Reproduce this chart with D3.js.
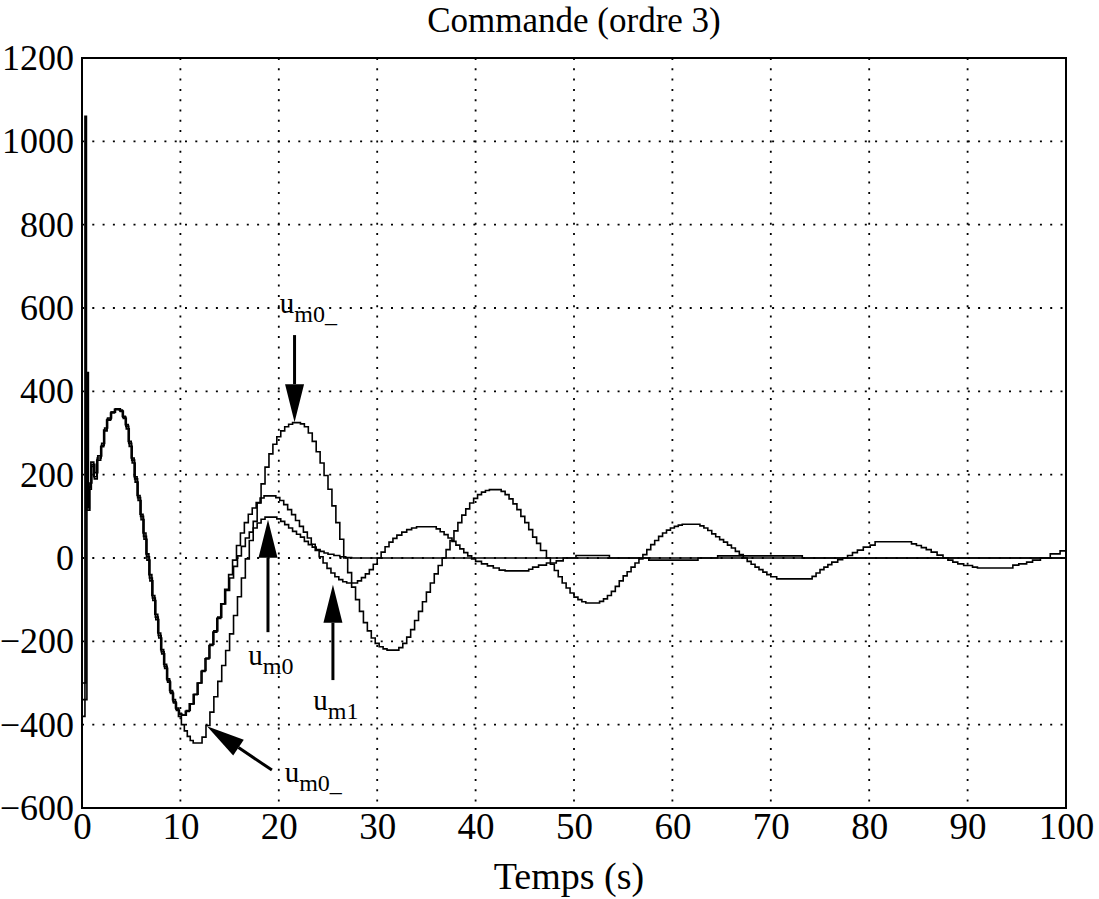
<!DOCTYPE html>
<html>
<head>
<meta charset="utf-8">
<script src="https://cdn.jsdelivr.net/npm/d3@7/dist/d3.min.js"></script>
<style>
  html, body { margin: 0; padding: 0; background: #fff; }
  svg { display: block; }
  text { font-family: "Liberation Serif", "DejaVu Serif", serif; fill: #000; }
</style>
</head>
<body>
<svg id="chart" width="1099" height="899"></svg>
<script>
// ---------------- DATA ----------------
const title = "Commande (ordre 3)";
const xLabel = "Temps (s)";
const xTicks = [0, 10, 20, 30, 40, 50, 60, 70, 80, 90, 100];
const yTicks = [-600, -400, -200, 0, 200, 400, 600, 800, 1000, 1200];

// u_m0 : [time (s), value]
const um0 = [
  [0,-380],[0.3,1060],[0.45,115],[0.8,180],[1.0,225],[1.3,205],[1.6,245],[2.0,275],[2.3,312],[2.6,336],
  [3.0,350],[3.4,358],[3.9,352],[4.2,335],[4.5,310],[4.8,268],[5.1,228],[5.4,182],[5.7,138],[6.0,92],
  [6.3,45],[6.6,-5],[6.9,-55],[7.2,-102],[7.5,-148],[7.8,-192],[8.1,-230],[8.4,-265],[8.7,-298],[9.0,-325],
  [9.3,-348],[9.6,-366],[9.9,-375],[10.2,-377],[10.6,-366],[11.0,-350],[11.4,-327],[11.8,-300],[12.2,-270],
  [12.6,-240],[13.0,-207],[13.4,-175],[13.8,-142],[14.2,-110],[14.6,-78],[15.0,-48],[15.4,-20],[15.8,5],
  [16.2,28],[16.6,48],[17.0,62],[17.4,72],[17.8,84],[18.2,93],[18.6,98],[19.4,98],[19.8,94],[20.2,88],
  [20.6,80],[21.0,72],[21.4,64],[21.8,57],[22.2,50],[22.6,40],[23.0,32],[23.4,26],[23.8,20],[24.2,16],
  [24.6,12],[25.0,9],[25.6,6],[26.2,3],[26.8,1],[27.4,0],[100,0]
];

// u_m1
const um1 = [
  [0,-340],[0.5,445],[0.65,120],[0.75,165],[0.95,220],[1.25,190],[1.55,240],[1.95,270],[2.25,305],[2.55,333],
  [2.95,350],[3.35,356],[3.85,353],[4.15,338],[4.45,316],[4.75,275],[5.05,235],[5.35,190],[5.65,145],[5.95,100],
  [6.25,52],[6.55,3],[6.85,-48],[7.15,-96],[7.45,-142],[7.75,-186],[8.05,-225],[8.35,-260],[8.65,-294],[8.95,-322],
  [9.25,-345],[9.55,-363],[9.85,-373],[10.1,-377],[10.5,-368],[10.9,-350],[11.3,-328],[11.7,-300],[12.1,-272],
  [12.5,-242],[12.9,-210],[13.3,-178],[13.7,-145],[14.1,-110],[14.5,-75],[14.9,-40],[15.3,-5],[15.7,30],
  [16.1,60],[16.5,85],[16.9,105],[17.3,120],[17.7,133],[18.1,144],[18.5,149],[19.3,149],[19.7,145],[20.1,138],
  [20.5,128],[20.9,116],[21.3,104],[21.7,90],[22.1,76],[22.5,62],[22.9,48],[23.3,33],[23.7,18],[24.1,3],
  [24.5,-12],[24.9,-25],[25.3,-36],[25.7,-45],[26.1,-52],[26.5,-57],[26.9,-60],[27.6,-60],[28.0,-55],
  [28.4,-47],[28.8,-38],[29.2,-28],[29.6,-15],[30.0,0],[30.4,14],[30.8,27],[31.2,38],[31.6,47],[32.0,55],
  [32.5,62],[33.0,68],[33.5,72],[34.0,75],[35.6,75],[36.0,70],[36.4,63],[36.8,56],[37.2,48],[37.6,40],
  [38.0,31],[38.4,22],[38.8,13],[39.2,5],[39.6,-2],[40.0,-8],[40.6,-14],[41.2,-19],[41.8,-24],[42.4,-29],
  [43.0,-31],[45.0,-31],[45.4,-27],[45.8,-22],[46.4,-17],[47.2,-12],[48.2,-7],[48.9,0],[50.2,6],[53.6,0],
  [57.6,-5],[62.6,0],[64.6,5],[73.2,0],[100,0]
];

// u_m0_
const um0b = [
  [0,-300],[0.4,130],[0.7,170],[0.9,230],[1.2,195],[1.5,235],[1.9,267],[2.2,307],[2.5,331],[2.9,348],
  [3.3,357],[3.8,355],[4.1,340],[4.4,320],[4.7,280],[5.0,240],[5.3,195],[5.6,150],[5.9,105],[6.2,60],
  [6.5,10],[6.8,-40],[7.1,-90],[7.4,-135],[7.7,-180],[8.0,-220],[8.3,-255],[8.6,-290],[8.9,-318],[9.2,-340],
  [9.5,-360],[9.8,-380],[10.1,-400],[10.4,-415],[10.7,-428],[11.0,-438],[11.3,-444],[11.9,-444],[12.2,-430],
  [12.6,-402],[13.0,-370],[13.4,-333],[13.8,-296],[14.2,-258],[14.6,-222],[15.0,-182],[15.4,-138],[15.8,-93],
  [16.2,-48],[16.6,-2],[17.0,42],[17.4,88],[17.8,132],[18.2,178],[18.6,218],[19.0,250],[19.4,273],[19.8,291],
  [20.2,305],[20.6,315],[21.0,321],[21.4,325],[22.2,322],[22.6,315],[23.0,300],[23.4,280],[23.8,255],[24.2,228],
  [24.6,198],[25.0,165],[25.4,125],[25.8,85],[26.2,45],[26.6,0],[27.0,-35],[27.4,-70],[27.8,-100],[28.2,-128],
  [28.6,-155],[29.0,-175],[29.4,-192],[29.8,-205],[30.2,-213],[30.6,-218],[31.0,-221],[31.8,-221],[32.2,-215],
  [32.6,-205],[33.0,-190],[33.4,-172],[33.8,-150],[34.2,-128],[34.6,-105],[35.0,-82],[35.4,-60],[35.8,-38],
  [36.2,-18],[36.6,0],[37.0,20],[37.4,42],[37.8,65],[38.2,85],[38.6,103],[39.0,118],[39.4,132],[39.8,143],
  [40.2,152],[40.6,158],[41.0,162],[41.4,164],[42.2,164],[42.6,160],[43.0,152],[43.4,142],[43.8,130],[44.2,116],
  [44.6,100],[45.0,85],[45.4,68],[45.8,50],[46.2,35],[46.6,18],[47.2,0],[47.6,-15],[48.0,-30],[48.4,-45],
  [48.8,-60],[49.2,-72],[49.6,-84],[50.0,-94],[50.4,-100],[50.8,-105],[51.2,-108],[52.2,-108],[52.6,-104],
  [53.0,-98],[53.4,-90],[53.8,-80],[54.2,-68],[54.6,-55],[55.0,-43],[55.4,-33],[55.8,-22],[56.2,-12],[56.6,-2],
  [57.0,8],[57.4,20],[57.8,32],[58.2,42],[58.6,52],[59.0,60],[59.4,67],[59.8,72],[60.2,76],[60.6,79],[61.0,81],
  [62.4,81],[62.8,77],[63.2,72],[63.6,66],[64.0,58],[64.4,51],[64.8,44],[65.2,38],[65.6,31],[66.0,24],[66.4,16],
  [66.8,8],[67.2,0],[67.6,-8],[68.0,-15],[68.4,-22],[68.8,-28],[69.2,-34],[69.6,-40],[70.0,-45],[70.6,-50],
  [73.7,-50],[74.2,-44],[74.6,-36],[75.0,-28],[75.4,-22],[75.8,-16],[76.2,-10],[76.8,-4],[77.3,0],[77.8,6],
  [78.3,13],[78.8,19],[79.4,26],[80.1,31],[80.6,39],[83.8,39],[84.3,34],[84.8,30],[85.3,25],[85.8,20],[86.3,14],
  [86.9,7],[87.5,0],[88.0,-5],[88.5,-10],[89.0,-14],[89.6,-18],[90.5,-22],[91.0,-24],[94.3,-24],[94.6,-17],
  [95.2,-14],[96.0,-10],[96.6,-5],[97.4,0],[98.4,10],[99.4,17],[100,17]
];

// annotations: label main, subscript, text anchor point (data units), arrow tail and tip (data units)
const annotations = [
  { main: "u", sub: "m0_", text: [20.1, 588],  tail: [21.6, 535],  tip: [21.6, 326] },
  { main: "u", sub: "m0",  text: [16.9, -257], tail: [18.9, -178], tip: [18.9, 92] },
  { main: "u", sub: "m1",  text: [23.5, -365], tail: [25.5, -293], tip: [25.5, -64] },
  { main: "u", sub: "m0_", text: [20.6, -538], tail: [19.3, -509], tip: [12.7, -404] }
];

// ---------------- DRAW ----------------
const svg = d3.select("#chart");
const L = 82, R = 1066, T = 58, B = 808;
const x = d3.scaleLinear().domain([0, 100]).range([L, R]);
const y = d3.scaleLinear().domain([-600, 1200]).range([B, T]);

// grid
const grid = svg.append("g");
grid.selectAll("line.vx").data(xTicks.filter(d => d > 0 && d < 100)).join("line")
  .attr("x1", d => x(d)).attr("x2", d => x(d)).attr("y1", T).attr("y2", B)
  .attr("stroke", "#000").attr("stroke-width", 1.8).attr("stroke-dasharray", "2,8.3");
grid.selectAll("line.hy").data(yTicks.filter(d => d > -600 && d < 1200)).join("line")
  .attr("y1", d => y(d)).attr("y2", d => y(d)).attr("x1", L).attr("x2", R)
  .attr("stroke", "#000").attr("stroke-width", 1.8).attr("stroke-dasharray", "2,8.3");

// axes
const xAxis = d3.axisBottom(x).tickValues(xTicks).tickSize(0).tickPadding(5).tickFormat(d3.format("d"));
const yAxis = d3.axisLeft(y).tickValues(yTicks).tickSize(0).tickPadding(8).tickFormat(d3.format("d"));
const gx = svg.append("g").attr("transform", `translate(0,${B})`).call(xAxis);
const gy = svg.append("g").attr("transform", `translate(${L},0)`).call(yAxis);
[gx, gy].forEach(g => {
  g.select(".domain").remove();
  g.selectAll("text").attr("font-family", "Liberation Serif").attr("font-size", 36).attr("fill", "#000");
});
gx.selectAll("text").attr("dy", "0.71em").attr("font-size", 37);

// series
const line = d3.line().x(d => x(d[0])).y(d => y(d[1])).curve(d3.curveStepAfter);
const plot = svg.append("g");
[um0, um1, um0b].forEach(s => {
  plot.append("path").datum(s).attr("d", line)
    .attr("fill", "none").attr("stroke", "#000").attr("stroke-width", 1.6).attr("stroke-linejoin", "miter");
});

// frame
svg.append("rect").attr("x", L).attr("y", T).attr("width", R - L).attr("height", B - T)
  .attr("fill", "none").attr("stroke", "#000").attr("stroke-width", 2);

// title and x label
svg.append("text").attr("x", 574).attr("y", 32).attr("text-anchor", "middle")
  .attr("font-size", 35).text(title);
svg.append("text").attr("x", 569).attr("y", 889).attr("text-anchor", "middle")
  .attr("font-size", 38).text(xLabel);

// annotations
const ann = svg.append("g");
annotations.forEach(a => {
  const tx = x(a.tail[0]), ty = y(a.tail[1]);
  const px = x(a.tip[0]), py = y(a.tip[1]);
  const dx = px - tx, dy = py - ty, len = Math.hypot(dx, dy);
  const ux = dx / len, uy = dy / len;
  const hl = 38, hw = 9.5;
  const bx = px - ux * hl, by = py - uy * hl;
  ann.append("line").attr("x1", tx).attr("y1", ty).attr("x2", bx).attr("y2", by)
    .attr("stroke", "#000").attr("stroke-width", 3);
  ann.append("path")
    .attr("d", `M${px},${py} L${bx - uy * hw},${by + ux * hw} L${bx + uy * hw},${by - ux * hw} Z`)
    .attr("fill", "#000");
  const t = ann.append("text").attr("x", x(a.text[0])).attr("y", y(a.text[1])).attr("font-size", 29);
  t.append("tspan").text(a.main);
  t.append("tspan").attr("font-size", 24).attr("dy", 9).text(a.sub);
});
</script>
</body>
</html>
